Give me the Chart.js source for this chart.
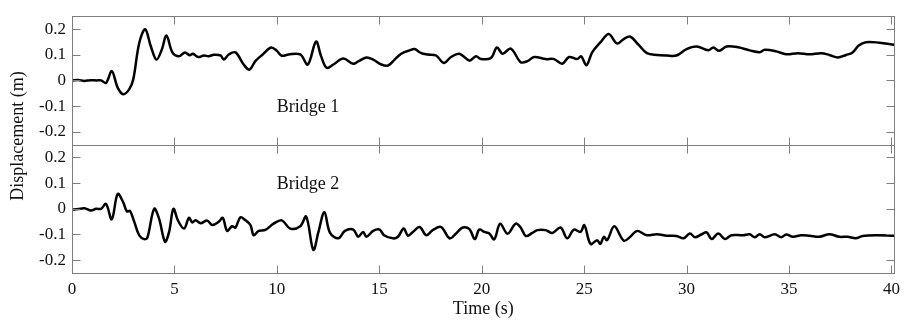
<!DOCTYPE html>
<html>
<head>
<meta charset="utf-8">
<script src="https://cdn.jsdelivr.net/npm/chart.js"></script>
<style>
  html, body { margin: 0; padding: 0; background: #fff; }
  #wrap { width: 906px; height: 320px; }
</style>
</head>
<body>
<div id="wrap"><canvas id="mychart" width="906" height="320"></canvas></div>
<script>
// Bridge 1 (top panel)
const timeTop = [0, 0.3, 0.6, 0.9, 1.2, 1.42, 1.66, 1.94, 2.23, 2.5, 2.79, 2.99, 3.28, 3.57, 3.85, 4.12, 4.38, 4.61, 4.9, 5.22,
  5.51, 5.74, 5.9, 6.16, 6.44, 6.68, 6.92, 7.25, 7.41, 7.65, 7.98, 8.38, 8.66, 8.95, 9.31, 9.72, 10.0, 10.24, 10.57, 11.14,
  11.51, 11.91, 12.16, 12.43, 12.76, 13.24, 13.73, 13.97, 14.37, 14.7, 15.1, 15.43, 15.75, 16.07, 16.48, 16.72, 17.05, 17.37, 17.77, 18.15,
  18.5, 18.91, 19.4, 19.72, 19.96, 20.45, 20.74, 21.02, 21.42, 21.9, 22.23, 22.56, 23.12, 23.53, 23.93, 24.26, 24.66, 24.85, 25.11, 25.39,
  25.79, 26.2, 26.6, 26.93, 27.25, 27.66, 28.06, 28.55, 29.03, 29.5, 30.0, 30.49, 31.06, 31.3, 31.59, 31.95, 32.52, 33.08, 33.57, 33.81,
  34.38, 34.86, 35.43, 36.0, 36.57, 36.97, 37.38, 37.78, 38.1, 38.4, 38.75, 39.4, 40.13];
const dispTop = [0, 0.002, -0.002, 0.001, 0, 0, -0.01, 0.036, -0.028, -0.054, -0.035, 0.004, 0.145, 0.199, 0.132, 0.081, 0.119, 0.175, 0.109, 0.094,
  0.109, 0.098, 0.104, 0.091, 0.097, 0.094, 0.1, 0.097, 0.081, 0.101, 0.109, 0.062, 0.042, 0.075, 0.101, 0.128, 0.115, 0.096, 0.101, 0.101,
  0.062, 0.151, 0.094, 0.049, 0.062, 0.085, 0.065, 0.074, 0.089, 0.081, 0.062, 0.058, 0.081, 0.104, 0.117, 0.122, 0.106, 0.101, 0.097, 0.068,
  0.091, 0.104, 0.077, 0.094, 0.083, 0.087, 0.128, 0.104, 0.124, 0.071, 0.075, 0.091, 0.083, 0.083, 0.065, 0.091, 0.083, 0.094, 0.059, 0.109,
  0.148, 0.181, 0.144, 0.161, 0.17, 0.138, 0.106, 0.099, 0.097, 0.097, 0.122, 0.132, 0.117, 0.128, 0.115, 0.132, 0.129, 0.117, 0.11, 0.119,
  0.113, 0.102, 0.106, 0.102, 0.106, 0.099, 0.089, 0.099, 0.109, 0.136, 0.149, 0.147, 0.139];

// Bridge 2 (bottom panel)
const timeBottom = [0, 0.3, 0.61, 0.93, 1.18, 1.42, 1.66, 1.94, 2.23, 2.5, 2.68, 2.83, 3.04, 3.28, 3.52, 3.68, 4.01, 4.25, 4.54, 4.74,
  4.95, 5.17, 5.47, 5.71, 5.87, 6.03, 6.28, 6.6, 6.84, 7.17, 7.36, 7.57, 7.81, 7.98, 8.22, 8.47, 8.71, 8.87, 9.11, 9.44,
  9.84, 10.24, 10.65, 11.14, 11.43, 11.78, 12.03, 12.32, 12.59, 13.0, 13.32, 13.73, 13.97, 14.21, 14.37, 14.7, 15.02, 15.23, 15.67, 15.91,
  16.19, 16.4, 16.64, 16.97, 17.29, 17.61, 18.02, 18.43, 18.75, 19.07, 19.4, 19.66, 19.88, 20.13, 20.37, 20.61, 20.9, 21.26, 21.66, 21.9,
  22.15, 22.47, 22.72, 23.12, 23.45, 23.85, 24.17, 24.5, 24.82, 25.01, 25.31, 25.63, 25.79, 25.96, 26.12, 26.47, 26.93, 27.25, 27.58, 28.06,
  28.55, 29.03, 29.5, 29.85, 30.16, 30.41, 30.74, 30.98, 31.22, 31.55, 31.87, 32.19, 32.76, 33.08, 33.32, 33.57, 33.81, 34.3, 34.62, 34.86,
  35.19, 35.59, 36.0, 36.48, 36.97, 37.45, 37.86, 38.26, 38.59, 39.24, 40.13];
const dispBottom = [-0.003, -0.001, 0.002, -0.007, 0, 0, 0.019, -0.041, 0.058, 0.025, -0.01, -0.008, -0.051, -0.103, -0.118, -0.112, 0, -0.038, -0.128, -0.09,
  0, -0.045, -0.077, -0.035, -0.053, -0.045, -0.056, -0.046, -0.063, -0.05, -0.035, -0.086, -0.068, -0.073, -0.033, -0.045, -0.063, -0.103, -0.086, -0.082,
  -0.058, -0.045, -0.077, -0.068, -0.03, -0.16, -0.09, -0.013, -0.093, -0.115, -0.086, -0.081, -0.109, -0.09, -0.109, -0.086, -0.081, -0.103, -0.115, -0.109,
  -0.077, -0.105, -0.09, -0.071, -0.103, -0.083, -0.071, -0.115, -0.096, -0.073, -0.079, -0.118, -0.081, -0.09, -0.096, -0.119, -0.058, -0.097, -0.058, -0.073,
  -0.106, -0.094, -0.083, -0.083, -0.094, -0.073, -0.115, -0.081, -0.09, -0.064, -0.137, -0.122, -0.137, -0.109, -0.122, -0.068, -0.124, -0.109, -0.086, -0.103,
  -0.099, -0.105, -0.106, -0.115, -0.096, -0.111, -0.099, -0.092, -0.118, -0.096, -0.118, -0.103, -0.103, -0.099, -0.111, -0.099, -0.111, -0.099, -0.111, -0.1,
  -0.109, -0.103, -0.105, -0.109, -0.099, -0.109, -0.109, -0.115, -0.106, -0.103, -0.105];

const xTicks = [0, 5, 10, 15, 20, 25, 30, 35, 40];
const yTicks = [-0.2, -0.1, 0, 0.1, 0.2];
const panelNames = ["Bridge 1", "Bridge 2"];

const serif = "'Liberation Serif', 'DejaVu Serif', serif";
const frameColor = "#7f7f7f";

// frame, inward ticks on all sides, panel labels, shared y title
const framePlugin = {
  id: 'frames',
  afterDraw(chart) {
    const ctx = chart.ctx;
    const area = chart.chartArea;
    const xs = chart.scales.x;
    const tl = 8;
    ctx.save();
    ctx.strokeStyle = frameColor;
    ctx.lineWidth = 1;
    ['yTop', 'yBottom'].forEach((id, k) => {
      const ys = chart.scales[id];
      const top = Math.round(ys.top) + 0.5, bot = Math.round(ys.bottom) + 0.5;
      const l = Math.round(area.left) + 0.5, r = Math.round(area.right) - 0.5;
      ctx.strokeRect(l, top, r - l, bot - top);
      ctx.beginPath();
      xTicks.forEach(v => {
        const px = Math.round(xs.getPixelForValue(v)) + 0.5;
        ctx.moveTo(px, top); ctx.lineTo(px, top + tl);
        ctx.moveTo(px, bot); ctx.lineTo(px, bot - tl);
      });
      yTicks.forEach(v => {
        const py = Math.round(ys.getPixelForValue(v)) + 0.5;
        ctx.moveTo(l, py); ctx.lineTo(l + tl, py);
        ctx.moveTo(r, py); ctx.lineTo(r - tl, py);
      });
      ctx.stroke();

      ctx.fillStyle = "#111";
      ctx.font = "18px " + serif;
      ctx.textAlign = 'left';
      ctx.textBaseline = 'middle';
      const ly = k === 0 ? -0.105 : 0.097;
      ctx.fillText(panelNames[k], xs.getPixelForValue(10), ys.getPixelForValue(ly));
    });

    ctx.fillStyle = "#111";
    ctx.font = "18px " + serif;
    ctx.textAlign = 'center';
    ctx.textBaseline = 'middle';
    ctx.translate(18, 136);
    ctx.rotate(-Math.PI / 2);
    ctx.fillText("Displacement (m)", 0, 0);
    ctx.restore();
  }
};

function yScale() {
  return {
    type: 'linear',
    position: 'left',
    stack: 'panels',
    stackWeight: 1,
    min: -0.25,
    max: 0.25,
    afterBuildTicks: s => { s.ticks = yTicks.map(v => ({ value: v })); },
    afterFit: s => { s.width = 72; },
    grid: { display: false, drawTicks: false },
    border: { display: false },
    ticks: {
      color: "#111",
      padding: 6,
      autoSkip: false,
      font: { family: serif, size: 17 },
      callback: v => String(Math.round(v * 10) / 10)
    }
  };
}

new Chart(document.getElementById("mychart"), {
  type: 'line',
  data: {
    datasets: [{
      label: panelNames[0],
      data: timeTop.map((t, i) => ({ x: t, y: dispTop[i] })),
      yAxisID: 'yTop',
      borderColor: "#000",
      borderWidth: 2.5,
      pointRadius: 0,
      tension: 0.35,
      fill: false
    }, {
      label: panelNames[1],
      data: timeBottom.map((t, i) => ({ x: t, y: dispBottom[i] })),
      yAxisID: 'yBottom',
      borderColor: "#000",
      borderWidth: 2.5,
      pointRadius: 0,
      tension: 0.35,
      fill: false
    }]
  },
  options: {
    responsive: false,
    animation: false,
    layout: { padding: { top: 13, right: 7, left: 0, bottom: 0 } },
    plugins: { legend: { display: false }, tooltip: { enabled: false } },
    scales: {
      x: {
        type: 'linear',
        min: 0,
        max: 40.15,
        afterBuildTicks: s => { s.ticks = xTicks.map(v => ({ value: v })); },
        afterFit: s => { s.height = 47; },
        grid: { display: false, drawTicks: false },
        border: { display: false },
        ticks: {
          color: "#111",
          padding: 6,
          maxRotation: 0,
          autoSkip: false,
          font: { family: serif, size: 17 }
        },
        title: {
          display: true,
          text: "Time (s)",
          color: "#111",
          font: { family: serif, size: 18 },
          padding: { top: 0, bottom: 0 }
        }
      },
      // stacked axes are laid out bottom-up, so the lower panel comes first
      yBottom: yScale(),
      yTop: yScale()
    }
  },
  plugins: [framePlugin]
});
</script>
</body>
</html>
